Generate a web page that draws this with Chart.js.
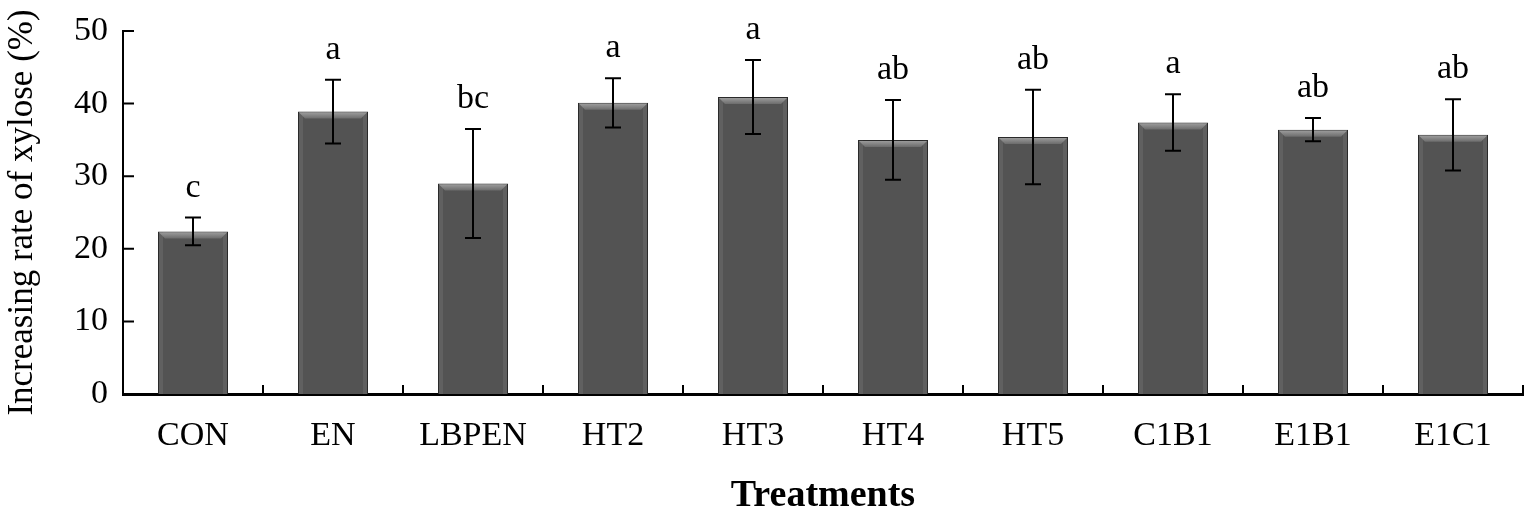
<!DOCTYPE html>
<html>
<head>
<meta charset="utf-8">
<script src="https://cdn.jsdelivr.net/npm/chart.js@4.4.1/dist/chart.umd.min.js"></script>
<style>
html, body { margin: 0; padding: 0; background: #fff; }
#wrap { width: 1535px; height: 517px; }
</style>
</head>
<body>
<div id="wrap"><canvas id="xylose"></canvas></div>
<script>
// datos
const treatments = ['CON', 'EN', 'LBPEN', 'HT2', 'HT3', 'HT4', 'HT5', 'C1B1', 'E1B1', 'E1C1'];
const xyloseRate = [22.4, 38.9, 29.0, 40.1, 40.9, 35.0, 35.4, 37.4, 36.4, 35.7];
const errors = [1.9, 4.4, 7.5, 3.4, 5.1, 5.5, 6.5, 3.9, 1.6, 4.9];
const letters = ['c', 'a', 'bc', 'a', 'a', 'ab', 'ab', 'a', 'ab', 'ab'];
const yTicks = [0, 10, 20, 30, 40, 50];

const serif = '"Liberation Serif", "Times New Roman", serif';

// bisel de las barras, barras de error y letras
const decor = {
    id: 'decor',
    afterDatasetsDraw(chart) {
        const ctx = chart.ctx;
        const yScale = chart.scales.y;
        const meta = chart.getDatasetMeta(0);
        meta.data.forEach((bar, i) => {
            const p = bar.getProps(['x', 'y', 'base', 'width'], true);
            const l = p.x - p.width / 2, r = p.x + p.width / 2;
            const top = p.y, base = p.base, b = 7;
            ctx.save();
            // lados
            ctx.fillStyle = '#606060';
            ctx.fillRect(l + 1, top + 1, 4, base - top - 1);
            ctx.fillRect(r - 5, top + 1, 4, base - top - 1);
            // bisel superior
            const g = ctx.createLinearGradient(0, top, 0, top + b);
            g.addColorStop(0, '#a3a3a3');
            g.addColorStop(1, '#6c6c6c');
            ctx.fillStyle = g;
            ctx.beginPath();
            ctx.moveTo(l + 1, top + 1);
            ctx.lineTo(r - 1, top + 1);
            ctx.lineTo(r - b, top + b);
            ctx.lineTo(l + b, top + b);
            ctx.closePath();
            ctx.fill();
            // barra de error
            const hi = yScale.getPixelForValue(xyloseRate[i] + errors[i]);
            const lo = yScale.getPixelForValue(xyloseRate[i] - errors[i]);
            ctx.strokeStyle = '#000';
            ctx.lineWidth = 2;
            ctx.beginPath();
            ctx.moveTo(p.x, hi); ctx.lineTo(p.x, lo);
            ctx.moveTo(p.x - 8, hi); ctx.lineTo(p.x + 8, hi);
            ctx.moveTo(p.x - 8, lo); ctx.lineTo(p.x + 8, lo);
            ctx.stroke();
            // letra
            ctx.fillStyle = '#000';
            ctx.font = '34px ' + serif;
            ctx.textAlign = 'center';
            ctx.textBaseline = 'alphabetic';
            ctx.fillText(letters[i], p.x, hi - 21);
            ctx.restore();
        });
    },
    afterDraw(chart) {
        // marcas hacia adentro
        const ctx = chart.ctx;
        const area = chart.chartArea;
        const xScale = chart.scales.x, yScale = chart.scales.y;
        ctx.save();
        ctx.strokeStyle = '#000';
        ctx.lineWidth = 2;
        ctx.beginPath();
        yTicks.forEach(v => {
            const py = yScale.getPixelForValue(v);
            ctx.moveTo(area.left, py);
            ctx.lineTo(area.left + 11, py);
        });
        const half = (xScale.getPixelForValue(1) - xScale.getPixelForValue(0)) / 2;
        treatments.forEach((t, i) => {
            const px = xScale.getPixelForValue(i) + half;
            ctx.moveTo(px, area.bottom);
            ctx.lineTo(px, area.bottom - 9);
        });
        ctx.stroke();
        ctx.restore();
    }
};

new Chart(document.getElementById('xylose'), {
    type: 'bar',
    data: {
        labels: treatments,
        datasets: [{
            data: xyloseRate,
            backgroundColor: '#535353',
            borderColor: '#2a2a2a',
            borderWidth: 1,
            categoryPercentage: 1,
            barPercentage: 0.5
        }]
    },
    options: {
        responsive: true,
        maintainAspectRatio: false,
        animation: false,
        layout: { padding: { top: 31, right: 12, left: 0, bottom: 0 } },
        plugins: {
            legend: { display: false },
            tooltip: { enabled: false }
        },
        scales: {
            x: {
                grid: { display: false, drawTicks: false },
                border: { display: true, color: '#000', width: 3 },
                ticks: { color: '#000', padding: 22, font: { family: serif, size: 34 } },
                title: {
                    display: true,
                    text: 'Treatments',
                    color: '#000',
                    font: { family: serif, size: 38, weight: 'bold', lineHeight: 1.1 },
                    padding: 0
                },
                afterFit: (scale) => { scale.height = 123; }
            },
            y: {
                min: 0,
                max: 50,
                afterBuildTicks: (scale) => { scale.ticks = yTicks.map(v => ({ value: v })); },
                // las marcas se dibujan en el plugin; tickLength solo separa las etiquetas
                grid: { display: false, drawTicks: true, tickLength: 15 },
                border: { display: true, color: '#000', width: 2 },
                ticks: { color: '#000', padding: 0, font: { family: serif, size: 34 } },
                title: {
                    display: true,
                    text: 'Increasing rate of xylose (%)',
                    color: '#000',
                    font: { family: serif, size: 35 },
                    padding: { top: 2, bottom: 0 }
                },
                afterFit: (scale) => { scale.width = 123; }
            }
        }
    },
    plugins: [decor]
});
</script>
</body>
</html>
